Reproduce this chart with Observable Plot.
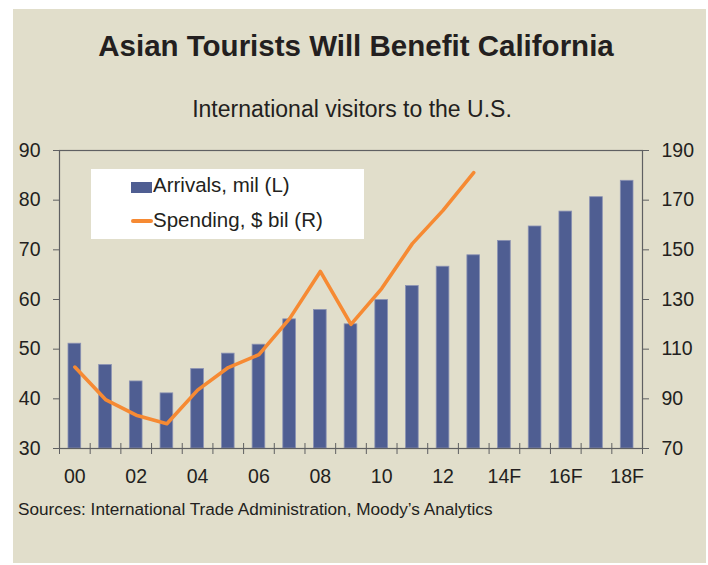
<!DOCTYPE html>
<html>
<head>
<meta charset="utf-8">
<script src="https://cdn.jsdelivr.net/npm/d3@7"></script>
<script src="https://cdn.jsdelivr.net/npm/@observablehq/plot@0.6"></script>
<style>
  html, body { margin: 0; padding: 0; background: #ffffff; }
  body { width: 708px; height: 565px; position: relative; overflow: hidden; font-family: "Liberation Sans", Arial, sans-serif; color: #231f20; }
  #panel { position: absolute; left: 13px; top: 9px; width: 693px; height: 554px; background: #e1decb; }
  .t { position: absolute; white-space: nowrap; }
  #title { left: 0; width: 712px; text-align: center; top: 29px; font-size: 29.5px; font-weight: bold; }
  #subtitle { left: 0; width: 704px; text-align: center; top: 96px; font-size: 23px; }
  #source { left: 18px; top: 499px; font-size: 17.2px; }
  #chart { position: absolute; left: 0; top: 0; }
  #legend { position: absolute; left: 91px; top: 169px; width: 273px; height: 70px; background: #ffffff; }
  .item { position: absolute; left: 40px; font-size: 20.5px; white-space: nowrap; }
  .sw { position: absolute; }
</style>
</head>
<body>
<div id="panel"></div>
<div id="chart"></div>
<div class="t" id="title">Asian Tourists Will Benefit California</div>
<div class="t" id="subtitle">International visitors to the U.S.</div>
<div id="legend">
  <div class="sw" style="left:40px; top:13px; width:21px; height:11px; background:#4f5e92;"></div>
  <div class="item" style="left:62px; top:4px;">Arrivals, mil (L)</div>
  <div class="sw" style="left:40px; top:50px; width:22px; height:3.5px; background:#f68a33; border-radius:2px;"></div>
  <div class="item" style="left:62px; top:39px;">Spending, $ bil (R)</div>
</div>
<div class="t" id="source">Sources: International Trade Administration, Moody’s Analytics</div>
<script>
// ---- data ----
const years = ["00","01","02","03","04","05","06","07","08","09","10","11","12","13","14F","15F","16F","17F","18F"];
const arrivals = [51.1, 46.8, 43.5, 41.1, 46.0, 49.1, 50.9, 56.0, 57.9, 55.0, 59.9, 62.7, 66.6, 68.9, 71.8, 74.7, 77.7, 80.6, 83.9];
const spending = [102.8, 89.7, 83.4, 80.0, 93.5, 102.6, 107.8, 122.3, 141.3, 120.0, 134.4, 152.5, 165.9, 181.1];
const leftTicks = [30, 40, 50, 60, 70, 80, 90];
const rightTicks = [70, 90, 110, 130, 150, 170, 190];
const xLabels = ["00","02","04","06","08","10","12","14F","16F","18F"];

// left domain [30,90] <-> right domain [70,190]
const rightToLeft = v => 30 + (v - 70) * 60 / 120;
const leftToRight = v => 70 + (v - 30) * 120 / 60;

const barData = years.map((y, i) => ({year: y, value: arrivals[i]}));
const lineData = spending.map((v, i) => ({year: years[i], value: v}));

const W = 708, H = 565;
const mL = 59, mR = 66, mT = 150, mB = 117;
const step = (W - mL - mR) / years.length;

const chart = Plot.plot({
  width: W,
  height: H,
  marginLeft: mL,
  marginRight: mR,
  marginTop: mT,
  marginBottom: mB,
  style: {background: "transparent", fontFamily: "Liberation Sans, Arial, sans-serif", fontSize: "19.5px", color: "#231f20", overflow: "visible"},
  x: {type: "band", domain: years, padding: 0, round: false},
  y: {domain: [30, 90]},
  marks: [
    Plot.barY(barData, {x: "year", y1: 30, y2: "value", fill: "#4f5e92", stroke: "#8b92b3", strokeWidth: 0.8, insetLeft: 9, insetRight: 9}),
    Plot.line(lineData, {x: "year", y: d => rightToLeft(d.value), stroke: "#f68a33", strokeWidth: 3.6, strokeLinejoin: "round", strokeLinecap: "round"}),
    Plot.frame({stroke: "#5f6062", strokeWidth: 1.2}),
    Plot.axisY({anchor: "left", ticks: leftTicks, tickSize: 6, tickPadding: 13, label: null, stroke: "#5f6062", fill: "#231f20"}),
    Plot.axisY({anchor: "right", ticks: leftTicks, tickFormat: d => String(leftToRight(d)), tickSize: 6, tickPadding: 13, label: null, stroke: "#5f6062", fill: "#231f20"}),
    Plot.axisX({ticks: xLabels, tickSize: 0, tickPadding: 21, label: null, fill: "#231f20"}),
    Plot.axisX({ticks: years, text: null, tickSize: 11, dy: -5, dx: step / 2, label: null, stroke: "#5f6062"}),
    Plot.axisX({ticks: [years[0]], text: null, tickSize: 11, dy: -5, dx: -step / 2, label: null, stroke: "#5f6062"})
  ]
});
document.getElementById("chart").appendChild(chart);
</script>
</body>
</html>
